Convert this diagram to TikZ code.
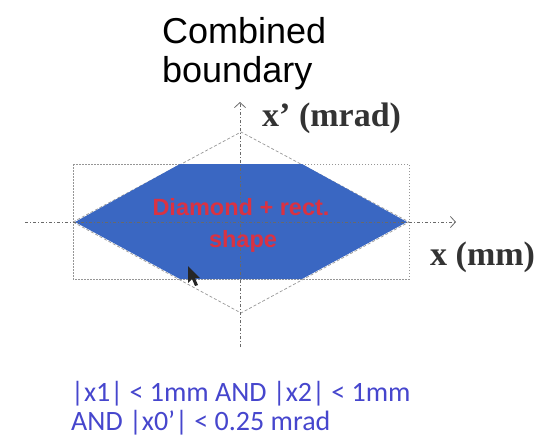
\documentclass[tikz,border=0pt]{standalone}
\usepackage{fontspec}
\setmainfont{Liberation Serif}
\newfontfamily\titlefont{Liberation Sans}
\newfontfamily\calfont{Carlito}
\usetikzlibrary{arrows.meta}
\definecolor{hexblue}{RGB}{58,103,194}
\definecolor{hexred}{RGB}{218,50,66}
\definecolor{condblue}{RGB}{70,70,205}
\definecolor{axisgray}{RGB}{105,105,105}
\definecolor{guidegray}{RGB}{150,150,150}
\tikzset{
  axisline/.style={draw=axisgray, line width=0.8pt, dash pattern=on 3pt off 2pt on 1pt off 2pt,
    -{Straight Barb[length=5pt,width=11pt,line width=0.8pt]}},
  rectguide/.style={draw=guidegray, line width=0.7pt, dash pattern=on 1.5pt off 1.5pt},
  diamguide/.style={draw=guidegray, line width=0.7pt, dash pattern=on 3pt off 2pt},
  hexfill/.style={fill=hexblue, draw=none},
  titletext/.style={font=\titlefont\fontsize{36}{39}\selectfont, inner sep=0pt, anchor=base west},
  axislabel/.style={font=\bfseries\fontsize{34}{38}\selectfont, text=black!80, inner sep=0pt, anchor=base west},
  shapetext/.style={font=\titlefont\bfseries\fontsize{23.5}{27}\selectfont, text=hexred, inner sep=0pt, anchor=base},
  condtext/.style={font=\calfont\fontsize{28}{30}\selectfont, text=condblue, inner sep=0pt, anchor=base west},
}
\begin{document}
\begin{tikzpicture}[x=1pt,y=-1pt]
\useasboundingbox (0,0) rectangle (536,437);
% key points
\coordinate (rTL) at (73,164);
\coordinate (rBR) at (409,279);
\coordinate (dL) at (73,222);
\coordinate (dT) at (241,132);
\coordinate (dR) at (409,222);
\coordinate (dB) at (241,313);
\coordinate (hL) at (75,222);
\coordinate (h1) at (180,164);
\coordinate (h2) at (302,164);
\coordinate (hR) at (407,222);
\coordinate (h3) at (302,279);
\coordinate (h4) at (180,279);
\coordinate (xs) at (25,222);
\coordinate (xe) at (456,222);
\coordinate (ys) at (240,347);
\coordinate (ye) at (240,102);
% guides
\draw[rectguide] (rTL) rectangle (rBR);
\draw[diamguide] (dL) -- (dT) -- (dR) -- (dB) -- cycle;
% hexagon
\fill[hexfill] (hL) -- (h1) -- (h2) -- (hR) -- (h3) -- (h4) -- cycle;
% axes
\draw[axisline] (xs) -- (xe);
\draw[axisline] (ys) -- (ye);
% shape text
\node[shapetext] (s1) at (241,215) {Diamond + rect.};
\node[shapetext] (s2) at (243,247) {shape};
% cursor
\fill[black!85] (188,266) -- (188,283) -- (192,279) -- (195,286) -- (198,285) -- (195,278) -- (200,278) -- cycle;
% labels
\node[titletext] (t1) at (162,43) {Combined};
\node[titletext] (t2) at (162,82) {boundary};
\node[axislabel] (ly) at (262,126) {x’ (mrad)};
\node[axislabel] (lx) at (430,265) {x (mm)};
\node[condtext] (c1) at (71,401) {|x1| < 1mm AND |x2| < 1mm};
\node[condtext] (c2) at (71,430) {AND |x0’| < 0.25 mrad};
\end{tikzpicture}
\end{document}
